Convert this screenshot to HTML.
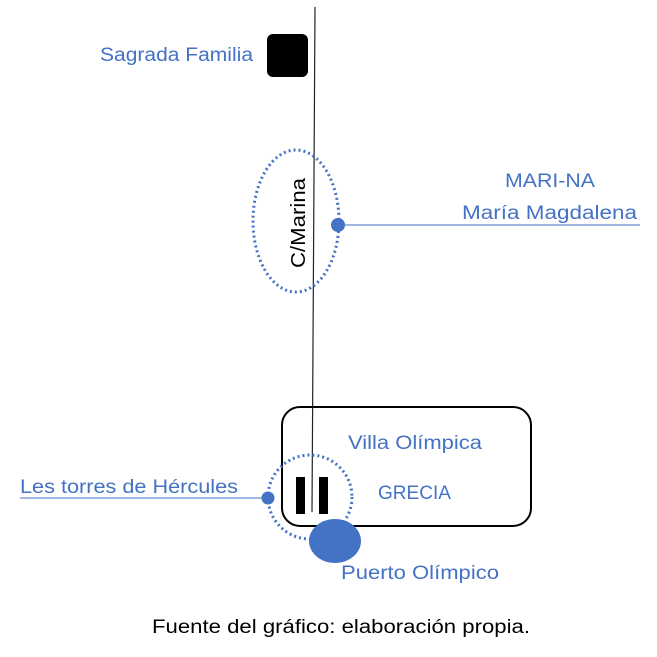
<!DOCTYPE html>
<html><head><meta charset="utf-8"><style>
body{margin:0;background:#fff}
svg text{font-family:"Liberation Sans",sans-serif;font-size:19px;fill:#4472C4}
</style></head><body>
<svg width="657" height="652" viewBox="0 0 657 652">
<line x1="315" y1="7" x2="312" y2="512" stroke="#222" stroke-width="1.2"/>
<rect x="267" y="34" width="41" height="43" rx="6" fill="#000"/>
<ellipse cx="296" cy="221" rx="43" ry="71" fill="none" stroke="#4472C4" stroke-width="3" stroke-dasharray="2 3"/>
<line x1="338" y1="225" x2="640" y2="225" stroke="#4472C4" stroke-width="1"/>
<circle cx="338" cy="225" r="7" fill="#4472C4"/>
<g transform="translate(305,223) rotate(-90)"><text x="-45" y="0" textLength="90" lengthAdjust="spacingAndGlyphs" style="fill:#000;font-size:20px">C/Marina</text></g>
<rect x="282" y="407" width="249" height="119" rx="18" fill="none" stroke="#000" stroke-width="2"/>
<circle cx="310" cy="497" r="42" fill="none" stroke="#4472C4" stroke-width="3" stroke-dasharray="2 3"/>
<rect x="296" y="477" width="9" height="37" fill="#000"/>
<rect x="319" y="477" width="9" height="37" fill="#000"/>
<line x1="20" y1="498" x2="268" y2="498" stroke="#4472C4" stroke-width="1"/>
<circle cx="268" cy="498" r="6.5" fill="#4472C4"/>
<ellipse cx="335" cy="541" rx="26" ry="22" fill="#4472C4"/>
<text x="100" y="61" textLength="153" lengthAdjust="spacingAndGlyphs">Sagrada Familia</text>
<text x="505" y="187" textLength="90" lengthAdjust="spacingAndGlyphs">MARI-NA</text>
<text x="462" y="219" textLength="175" lengthAdjust="spacingAndGlyphs">María Magdalena</text>
<text x="348" y="449" textLength="134" lengthAdjust="spacingAndGlyphs">Villa Olímpica</text>
<text x="378" y="499" textLength="73" lengthAdjust="spacingAndGlyphs">GRECIA</text>
<text x="20" y="493" textLength="218" lengthAdjust="spacingAndGlyphs">Les torres de Hércules</text>
<text x="341" y="579" textLength="158" lengthAdjust="spacingAndGlyphs">Puerto Olímpico</text>
<text x="152" y="633" textLength="378" lengthAdjust="spacingAndGlyphs" style="fill:#000">Fuente del gráfico: elaboración propia.</text>
</svg>
</body></html>
